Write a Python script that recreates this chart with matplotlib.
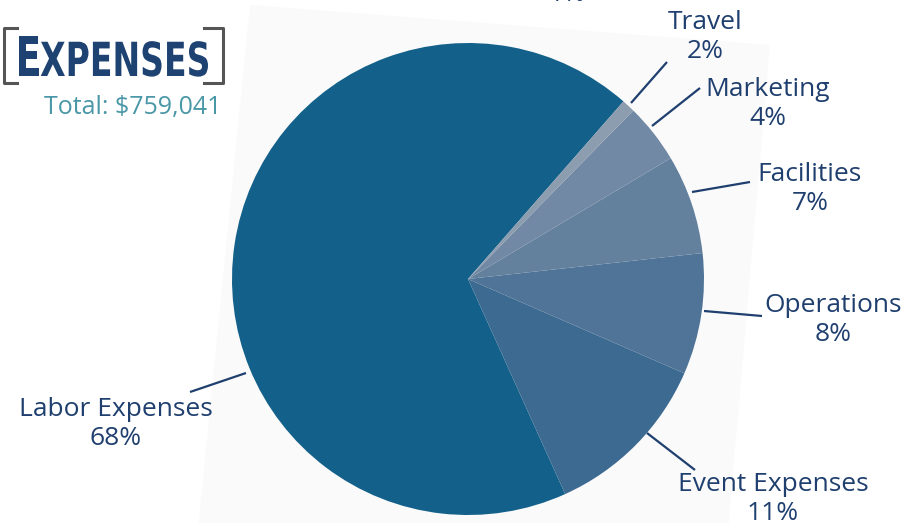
import matplotlib.pyplot as plt
from matplotlib.patches import Polygon, PathPatch
from matplotlib.textpath import TextPath
from matplotlib.font_manager import FontProperties
from matplotlib.transforms import Affine2D

# Data
labels = ["Labor Expenses", "Event Expenses", "Operations", "Facilities", "Marketing", "Travel"]
values = [68.2, 11.7, 8.3, 6.8, 4.1, 0.9]
pct_labels = ["68%", "11%", "8%", "7%", "4%", "2%"]
colors = ["#13618a", "#3c6a91", "#4f7497", "#63809d", "#7189a4", "#8d9db0"]
title = "Expenses"
total_text = "Total: $759,041"

# Layout (pixel coords, y measured from top)
W, H = 904, 523
leader_start = [(246, 373), (647, 433), (704, 311), (692, 192), (652, 126), (631, 103)]
leader_end = [(190, 392), (695, 470), (762, 316), (750, 182), (700, 88), (667, 62)]
label_pos = [(116, 424), (773, 499), (833, 320), (810, 189), (768, 104), (705, 37)]

navy = "#1f3f6f"
font = "Open Sans"

fig = plt.figure(figsize=(W / 100, H / 100), dpi=100)
ax = fig.add_axes([0, 0, 1, 1])

# faint tilted sheet behind the pie
ax.add_patch(Polygon([(250, H - 5), (770, H - 45), (722, H - 600), (195, H - 560)],
                     closed=True, facecolor="#fafafa", edgecolor="none", zorder=0))

ax.pie(values, colors=colors, startangle=48.8, counterclock=True,
       center=(468, H - 279), radius=236, wedgeprops=dict(linewidth=0))
ax.set_xlim(0, W)
ax.set_ylim(0, H)
ax.axis("off")

for (x0, y0), (x1, y1) in zip(leader_start, leader_end):
    ax.plot([x0, x1], [H - y0, H - y1], color=navy, lw=1.6, solid_capstyle="butt")

for name, pct, (x, y) in zip(labels, pct_labels, label_pos):
    ax.text(x, H - y, f"{name}\n{pct}", ha="center", va="center", fontsize=19,
            color=navy, linespacing=1.2, family=font)

# partially hidden label at the top edge
ax.text(567, H + 6, "1%", ha="center", va="center", fontsize=19, color=navy, family=font)

# title block: small caps, squeezed to a condensed look
fp = FontProperties(family="DejaVu Sans", weight="bold")
p_big = TextPath((0, 0), title[0].upper(), size=55, prop=fp)
p_small = TextPath((0, 0), title[1:].upper(), size=47, prop=fp)
e_big = p_big.get_extents()
e_small = p_small.get_extents()
gap = 3
sx = 193 / (e_big.x1 + gap + e_small.x1 - e_small.x0)
x0, base = 15, H - 76
ax.add_patch(PathPatch(Affine2D().scale(sx, 1).translate(x0, base).transform_path(p_big),
                       facecolor="#1e4272", edgecolor="none"))
x_rest = x0 + sx * (e_big.x1 + gap) - sx * e_small.x0
ax.add_patch(PathPatch(Affine2D().scale(sx, 1).translate(x_rest, base).transform_path(p_small),
                       facecolor="#1e4272", edgecolor="none"))

ax.plot([17, 4, 4, 17], [H - 28, H - 28, H - 83, H - 83], color="#555555", lw=2.2)
ax.plot([204, 223, 223, 204], [H - 28, H - 28, H - 83, H - 83], color="#555555", lw=2.2)
ax.text(222, H - 107, total_text, ha="right", va="center", fontsize=18,
        color="#4a97a7", family=font)

fig.savefig("out.png", dpi=100)
